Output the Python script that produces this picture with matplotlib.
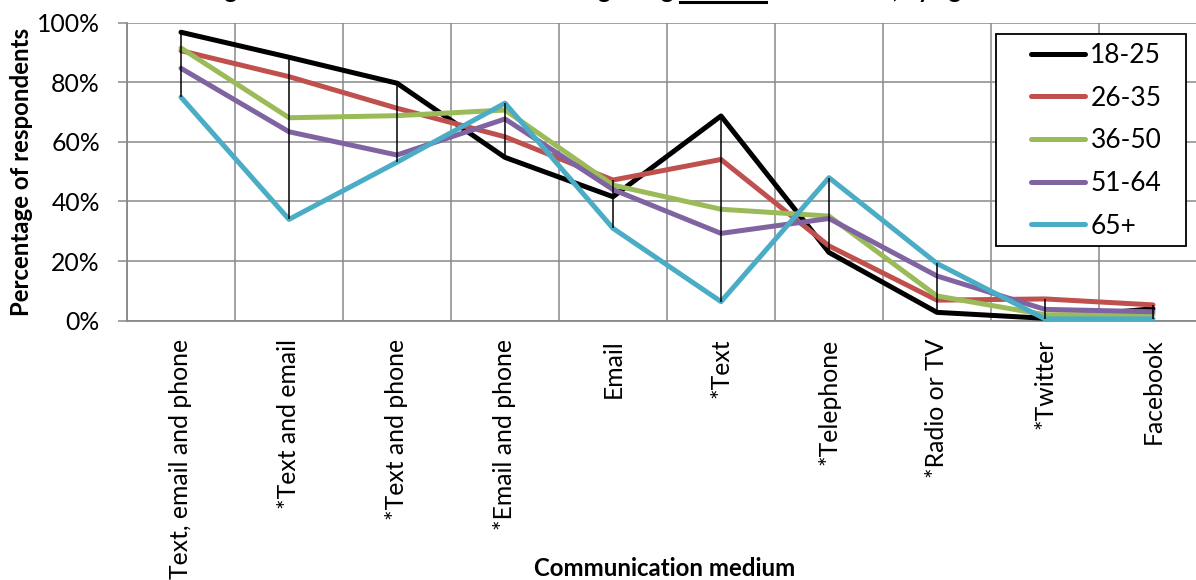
import matplotlib
matplotlib.use("Agg")
import matplotlib.pyplot as plt
from matplotlib.patches import Rectangle
import numpy as np

# Communication media and share of respondents (%) choosing each, per age group
categories = ["Text, email and phone", "*Text and email", "*Text and phone",
              "*Email and phone", "Email", "*Text", "*Telephone",
              "*Radio or TV", "*Twitter", "Facebook"]
age_18_25 = [96.8, 88.4, 79.7, 54.8, 41.6, 68.7, 22.9, 2.8, 0.8, 4.0]
age_26_35 = [90.6, 81.9, 71.3, 61.7, 47.2, 54.1, 25.1, 6.9, 7.3, 5.3]
age_36_50 = [91.5, 68.1, 68.8, 70.7, 45.5, 37.4, 35.1, 8.3, 2.0, 2.1]
age_51_64 = [84.7, 63.4, 55.6, 67.7, 44.0, 29.3, 34.3, 15.0, 3.8, 3.0]
age_65_plus = [75.0, 34.0, 53.2, 73.0, 31.0, 6.4, 48.0, 19.2, 0.6, 0.6]
group_labels = ["18-25", "26-35", "36-50", "51-64", "65+"]
yticks = [0, 20, 40, 60, 80, 100]
ytick_labels = ["0%", "20%", "40%", "60%", "80%", "100%"]

series = [age_18_25, age_26_35, age_36_50, age_51_64, age_65_plus]
colors = ["#000000", "#C0504D", "#9BBB59", "#8064A2", "#4BACC6"]

FONT = "Lato"
FS = 17.8      # tick labels
FS_LEG = 19.0  # legend
FS_B = 17.3    # bold axis titles
GRID = "#898989"

W, H = 1196, 580
fig = plt.figure(figsize=(W / 100, H / 100), dpi=100)
# plot area: x from 127 px to 1207 px (runs past the right edge), y from 22.7 to 320.7 px
AX_L, AX_W, AX_T, AX_B = 127, 1080, 22.7, 320.7
ax = fig.add_axes([AX_L / W, (H - AX_B) / H, AX_W / W, (AX_B - AX_T) / H])


def ax_x(px):
    return (px - AX_L) / AX_W


def ax_y(py):
    return (AX_B - py) / (AX_B - AX_T)


x = np.arange(len(categories))
for vals, col, lab in zip(series, colors, group_labels):
    ax.plot(x, vals, color=col, lw=3.6, label=lab,
            solid_capstyle="round", solid_joinstyle="round", zorder=3)

# high-low lines joining the extreme values at each category
data = np.array(series)
ax.vlines(x, data.min(axis=0), data.max(axis=0), color="black", lw=1.1, zorder=4)

ax.set_xlim(-0.5, len(categories) - 0.5)
ax.set_ylim(0, 100)

ax.set_yticks(yticks)
ax.set_yticklabels(ytick_labels, fontfamily=FONT, fontsize=FS)
ax.set_xticks(x)
ax.set_xticklabels(categories, rotation=90, fontfamily=FONT, fontsize=FS,
                   va="top", ha="center")
ax.set_xticks(np.arange(len(categories) + 1) - 0.5, minor=True)

ax.tick_params(axis="y", direction="out", length=6.5, width=1.1, color=GRID, pad=13)
ax.tick_params(axis="x", which="both", length=0, pad=13)

ax.grid(True, axis="y", color=GRID, lw=1.1, zorder=0)
ax.grid(True, axis="x", which="minor", color=GRID, lw=1.1, zorder=0)
ax.grid(False, axis="x", which="major")
ax.set_axisbelow(True)
for side in ["left", "bottom"]:
    ax.spines[side].set_color(GRID)
    ax.spines[side].set_linewidth(1.3)
for side in ["top", "right"]:
    ax.spines[side].set_visible(False)

ax.set_ylabel("Percentage of respondents", fontfamily=FONT, fontsize=FS_B,
              fontweight="bold")
ax.yaxis.set_label_coords(ax_x(22), 0.5)
ax.yaxis.label.set_va("center")
ax.set_xlabel("Communication medium", fontfamily=FONT, fontsize=FS_B,
              fontweight="bold")
ax.xaxis.set_label_coords(ax_x(665), ax_y(568))
ax.xaxis.label.set_va("center")

# legend entries without frame; the box is drawn separately
leg = ax.legend(loc="upper left", bbox_to_anchor=(ax_x(1031), ax_y(43)),
                prop={"family": FONT, "size": FS_LEG}, frameon=False,
                handlelength=2.05, handletextpad=0.2,
                labelspacing=0.67, borderpad=0, borderaxespad=0)
for h in leg.get_lines():
    h.set_solid_capstyle("round")
ax.add_patch(Rectangle((ax_x(996), ax_y(246)), ax_x(1186) - ax_x(996),
                       ax_y(34) - ax_y(246), transform=ax.transAxes,
                       fill=True, facecolor="white", edgecolor="black", lw=1.3,
                       clip_on=False, zorder=5))
leg.set_zorder(6)

# title, mostly above the top edge of the canvas
title_parts = ["Figure 5: Most favoured medium for getting ", "detailed",
               " flood alerts, by age"]
full = "".join(title_parts)
tx, ty = 205 / W, 1 + 2 / H
t = fig.text(tx, ty, full, ha="left", va="baseline", fontfamily=FONT,
             fontsize=FS_B, fontweight="bold")
r = fig.canvas.get_renderer()
bb = t.get_window_extent(r)
p0 = fig.text(0, 0, title_parts[0], fontfamily=FONT, fontsize=FS_B, fontweight="bold")
p1 = fig.text(0, 0, title_parts[0] + title_parts[1], fontfamily=FONT, fontsize=FS_B,
              fontweight="bold")
w0 = p0.get_window_extent(r).width
w1 = p1.get_window_extent(r).width
p0.remove()
p1.remove()
u_y = 1 - 1.5 / H
fig.add_artist(plt.Line2D([(bb.x0 + w0) / W, (bb.x0 + w1) / W], [u_y, u_y],
                          transform=fig.transFigure, color="black", lw=2.2))

fig.savefig("out.png", dpi=100)
